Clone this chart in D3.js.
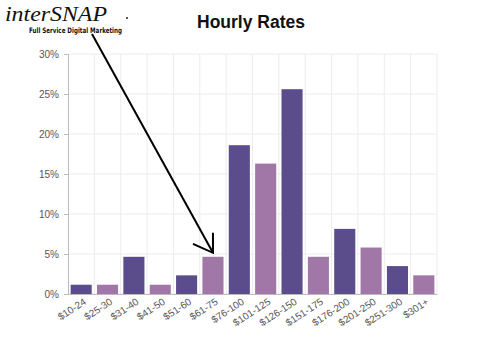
<!DOCTYPE html>
<html>
<head>
<meta charset="utf-8">
<script src="https://cdn.jsdelivr.net/npm/d3@7"></script>
<style>
body{margin:0;background:#fff;}
svg text{font-family:"Liberation Sans",Arial,sans-serif;}
</style>
</head>
<body>
<div id="chart"></div>
<script>
var categories = ["$10-24","$25-30","$31-40","$41-50","$51-60","$61-75","$76-100","$101-125","$126-150","$151-175","$176-200","$201-250","$251-300","$301+"];
var rates = [1.16,1.16,4.65,1.16,2.33,4.65,18.6,16.3,25.6,4.65,8.14,5.81,3.49,2.33];
var yTicks = [0,5,10,15,20,25,30];
var colors = ["#5b4d8c","#a077a6"];

var W = 480, H = 364;
var margin = {top: 54, right: 43, bottom: 70, left: 68};
var w = W - margin.left - margin.right;
var h = H - margin.top - margin.bottom;

var svg = d3.select("#chart").append("svg")
    .attr("width", W)
    .attr("height", H);

var g = svg.append("g")
    .attr("transform", "translate(" + margin.left + "," + margin.top + ")");

var x = d3.scaleBand().domain(categories).range([0, w]).paddingInner(0.2).paddingOuter(0.1);
var y = d3.scaleLinear().domain([0, 30]).range([h, 0]);

// grid
g.selectAll(".hgrid").data(yTicks).enter().append("line")
    .attr("x1", 0).attr("x2", w)
    .attr("y1", function(d){ return y(d); })
    .attr("y2", function(d){ return y(d); })
    .attr("stroke", "#ececec");
var step = x.step();
g.selectAll(".vgrid").data(categories).enter().append("line")
    .attr("x1", function(d){ return x(d) - x.bandwidth()*0.125 + step; })
    .attr("x2", function(d){ return x(d) - x.bandwidth()*0.125 + step; })
    .attr("y1", 0).attr("y2", h)
    .attr("stroke", "#ececec");

// bars
g.selectAll(".bar").data(rates).enter().append("rect")
    .attr("x", function(d, i){ return x(categories[i]); })
    .attr("y", function(d){ return y(d); })
    .attr("width", x.bandwidth())
    .attr("height", function(d){ return h - y(d); })
    .attr("fill", function(d, i){ return colors[i % 2]; });

// axes
var yAxis = d3.axisLeft(y).tickValues(yTicks).tickSize(4).tickFormat(function(d){ return d + "%"; });
var ya = g.append("g").call(yAxis);
ya.select(".domain").attr("stroke", "#bbb");
ya.selectAll(".tick line").attr("stroke", "#bbb");
ya.selectAll("text").attr("fill", "#555").style("font-size", "10px").attr("x", -9);

var xa = g.append("g").attr("transform", "translate(0," + h + ")")
    .call(d3.axisBottom(x).tickSize(0));
xa.select(".domain").attr("stroke", "#bbb");
xa.selectAll("text")
    .attr("fill", "#555")
    .style("font-size", "10px")
    .attr("text-anchor", "end")
    .attr("dy", 0)
    .attr("transform", "translate(4,7) rotate(-33)");

// title
svg.append("text")
    .attr("x", 251).attr("y", 28)
    .attr("text-anchor", "middle")
    .style("font-size", "17.5px")
    .style("font-weight", "bold")
    .attr("fill", "#111")
    .text("Hourly Rates");

// logo
svg.append("text")
    .attr("x", 5).attr("y", 21)
    .style("font-family", "'Liberation Serif','DejaVu Serif',serif")
    .style("font-style", "italic")
    .style("font-size", "22px")
    .attr("textLength", 102)
    .attr("lengthAdjust", "spacingAndGlyphs")
    .attr("fill", "#111")
    .text("interSNAP");
svg.append("text")
    .attr("x", 29).attr("y", 33)
    .style("font-family", "'DejaVu Sans Condensed','DejaVu Sans',sans-serif")
    .style("font-weight", "bold")
    .style("font-size", "7.5px")
    .attr("textLength", 93)
    .attr("lengthAdjust", "spacingAndGlyphs")
    .attr("fill", "#111")
    .text("Full Service Digital Marketing");
svg.append("circle").attr("cx", 127).attr("cy", 18).attr("r", 1).attr("fill", "#222");

// arrow pointing at $61-75
var tipX = margin.left + x("$61-75") + x.bandwidth()/2;
var tipY = margin.top + y(rates[5]) - 4;
svg.append("path")
    .attr("d", "M92,34L" + tipX + "," + tipY)
    .attr("stroke", "#000").attr("stroke-width", 2).attr("fill", "none");
svg.append("path")
    .attr("d", "M" + (tipX - 20) + "," + (tipY - 9) + "L" + tipX + "," + tipY + "L" + tipX + "," + (tipY - 20))
    .attr("stroke", "#000").attr("stroke-width", 2).attr("fill", "none");
</script>
</body>
</html>
